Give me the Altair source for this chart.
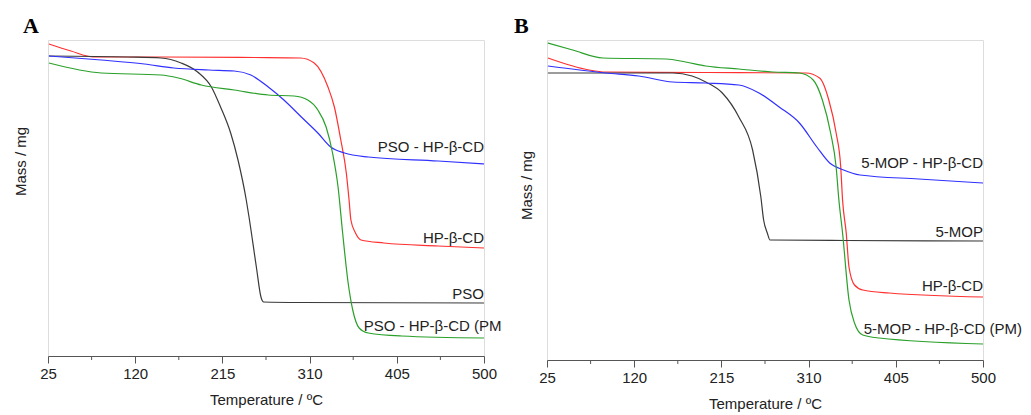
import altair as alt
import pandas as pd

# ---------------- Panel A data (Temperature / °C, Mass / mg) ----------------
a_hp_t = [26, 50, 75, 150, 250, 300, 315, 330, 337, 344, 350, 353, 355, 360, 366, 391, 450, 500]
a_hp_m = [31.2, 30.5, 29.9, 29.9, 29.85, 29.8, 29.3, 26.9, 24.9, 21.6, 18.3, 15.6, 13.6, 12.3, 11.6, 11.3, 11.0, 10.8]

a_pso_t = [26, 112, 148, 170, 188, 203, 213, 224, 232, 241, 244, 252, 257, 260, 300, 500]
a_pso_m = [30.0, 29.9, 29.8, 29.3, 28.4, 26.9, 24.9, 22.3, 19.6, 15.6, 13.9, 8.9, 5.9, 5.4, 5.35, 5.3]

a_cx_t = [26, 83, 130, 162, 200, 228, 246, 265, 282, 301, 319, 333, 348, 374, 450, 500]
a_cx_m = [30.0, 29.6, 29.2, 28.8, 28.6, 28.5, 28.1, 26.9, 25.6, 23.9, 22.3, 20.9, 20.3, 19.9, 19.5, 19.2]

a_pm_t = [26, 83, 148, 167, 192, 228, 265, 293, 308, 319, 328, 335, 341, 346, 352, 357, 364, 374, 410, 500]
a_pm_m = [29.3, 28.3, 28.1, 27.8, 27.1, 26.6, 26.1, 26.0, 25.6, 24.6, 22.9, 20.3, 16.9, 12.3, 7.3, 4.6, 2.8, 2.3, 2.0, 1.8]

a_series = ["HP-β-CD", "PSO", "PSO - HP-β-CD", "PSO - HP-β-CD (PM)"]
a_colors = ["#ff3030", "#3a3a3a", "#3030ff", "#2aa02a"]

a_lab_right = ["PSO - HP-β-CD", "HP-β-CD", "PSO"]
a_lab_right_t = [500, 500, 500]
a_lab_right_m = [20.4, 11.3, 5.7]
a_lab_left = ["PSO - HP-β-CD (PM)"]
a_lab_left_t = [369]
a_lab_left_m = [2.5]

# ---------------- Panel B data ----------------
b_pm_t = [26, 53, 86, 155, 176, 198, 234, 271, 300, 315, 325, 334, 340, 343, 347, 354, 360, 369, 387, 500]
b_pm_m = [31.7, 31.0, 30.2, 30.1, 29.8, 29.4, 29.1, 28.8, 28.7, 28.0, 26.0, 22.7, 19.3, 16.0, 12.7, 6.0, 3.7, 2.5, 2.2, 1.6]

b_hp_t = [26, 71, 89, 200, 307, 322, 332, 340, 345, 347, 351, 354, 360, 369, 398, 500]
b_hp_m = [30.2, 29.0, 28.8, 28.75, 28.7, 28.2, 26.0, 22.7, 19.3, 16.0, 12.7, 9.3, 7.5, 7.0, 6.7, 6.3]

b_mop_t = [26, 89, 162, 183, 198, 216, 234, 249, 258, 261, 265, 268, 350, 500]
b_mop_m = [28.7, 28.7, 28.7, 28.4, 27.8, 26.7, 24.3, 21.0, 16.3, 14.0, 12.7, 12.0, 11.95, 11.9]

b_cx_t = [26, 89, 125, 162, 198, 234, 256, 278, 300, 319, 333, 348, 366, 430, 500]
b_cx_m = [29.4, 28.7, 28.4, 27.8, 27.7, 27.5, 26.7, 25.3, 23.7, 21.3, 19.7, 19.0, 18.5, 18.1, 17.7]

b_series = ["HP-β-CD", "5-MOP", "5-MOP - HP-β-CD", "5-MOP - HP-β-CD (PM)"]
b_colors = ["#ff3030", "#3a3a3a", "#3030ff", "#2aa02a"]

b_lab_right = ["5-MOP - HP-β-CD", "5-MOP", "HP-β-CD"]
b_lab_right_t = [500, 500, 500]
b_lab_right_m = [19.2, 12.3, 6.9]
b_lab_left = ["5-MOP - HP-β-CD (PM)"]
b_lab_left_t = [370]
b_lab_left_m = [2.6]

tick_values = [25, 120, 215, 310, 405, 500]
minor_ticks = [72.5, 167.5, 262.5, 357.5, 452.5]

FONT = "Liberation Sans"
TXT = "#222222"
AX = "#555555"


def make_df(series, ts, ms):
    rows = []
    for s, t_list, m_list in zip(series, ts, ms):
        for i, (t, m) in enumerate(zip(t_list, m_list)):
            rows.append({"series": s, "T": t, "mass": m, "order": i})
    return pd.DataFrame(rows)


def panel(letter, series, colors, ts, ms, lr, lr_t, lr_m, ll, ll_t, ll_m,
          height, ymax, title_pad, title_y, letter_x, pm_limit):
    df = make_df(series, ts, ms)
    xs = alt.Scale(domain=[25, 500], nice=False, zero=False)
    ys = alt.Scale(domain=[0, ymax], nice=False, zero=False)
    xaxis = alt.Axis(values=tick_values, title="Temperature / ºC", grid=False,
                     tickSize=7, tickColor=AX, domainColor=AX, labelFont=FONT,
                     labelFontSize=15, labelColor=TXT, labelPadding=3, labelFlush=False,
                     titleFont=FONT, titleFontSize=15, titleFontWeight="normal",
                     titleColor=TXT, titlePadding=11)
    yaxis = alt.Axis(title="Mass / mg", labels=False, ticks=False, domain=False,
                     grid=False, titleFont=FONT, titleFontSize=15,
                     titleFontWeight="normal", titleColor=TXT,
                     titlePadding=title_pad, titleY=title_y)
    lines = alt.Chart(df).mark_line(strokeWidth=1.2, interpolate="monotone").encode(
        x=alt.X("T:Q", scale=xs, axis=xaxis),
        y=alt.Y("mass:Q", scale=ys, axis=yaxis),
        color=alt.Color("series:N", scale=alt.Scale(domain=series, range=colors), legend=None),
        order="order:O",
        detail="series:N",
    )
    dr = pd.DataFrame({"label": lr, "T": lr_t, "mass": lr_m})
    right = alt.Chart(dr).mark_text(align="right", baseline="alphabetic", font=FONT,
                                    fontSize=15, color=TXT).encode(
        x=alt.X("T:Q", scale=xs), y=alt.Y("mass:Q", scale=ys), text="label:N")
    dl = pd.DataFrame({"label": ll, "T": ll_t, "mass": ll_m})
    left_kw = dict(align="left", baseline="alphabetic", font=FONT, fontSize=15, color=TXT)
    if pm_limit:
        left_kw.update(limit=pm_limit, ellipsis="\u200b")
    left = alt.Chart(dl).mark_text(**left_kw).encode(
        x=alt.X("T:Q", scale=xs), y=alt.Y("mass:Q", scale=ys), text="label:N")
    dm = pd.DataFrame({"T": minor_ticks})
    minor = alt.Chart(dm).mark_rule(color=AX, strokeWidth=1).encode(
        x=alt.X("T:Q", scale=xs), y=alt.value(height), y2=alt.value(height + 4))
    dlet = pd.DataFrame({"label": [letter]})
    let = alt.Chart(dlet).mark_text(align="left", baseline="alphabetic",
                                    font="Liberation Serif", fontSize=22,
                                    fontWeight="bold", color="#000000").encode(
        x=alt.value(letter_x), y=alt.value(-7), text="label:N")
    return alt.layer(lines, right, left, minor, let).properties(width=436, height=height)


pa = panel("A", a_series, a_colors, [a_hp_t, a_pso_t, a_cx_t, a_pm_t],
           [a_hp_m, a_pso_m, a_cx_m, a_pm_m], a_lab_right, a_lab_right_t, a_lab_right_m,
           a_lab_left, a_lab_left_t, a_lab_left_m, 316, 31.6, 20, 121, -25, 138)
pb = panel("B", b_series, b_colors, [b_hp_t, b_mop_t, b_cx_t, b_pm_t],
           [b_hp_m, b_mop_m, b_cx_m, b_pm_m], b_lab_right, b_lab_right_t, b_lab_right_m,
           b_lab_left, b_lab_left_t, b_lab_left_m, 320, 32.0, 13, 145, -33, None)

chart = alt.hconcat(pa, pb, spacing=63, bounds="flush").resolve_scale(
    x="independent", y="independent", color="independent"
).properties(
    padding={"left": 4, "top": 6, "right": 0, "bottom": 0}
).configure_view(stroke=None).configure(background="white")

chart.save("out.html", embed_options={"renderer": "svg", "actions": False})
